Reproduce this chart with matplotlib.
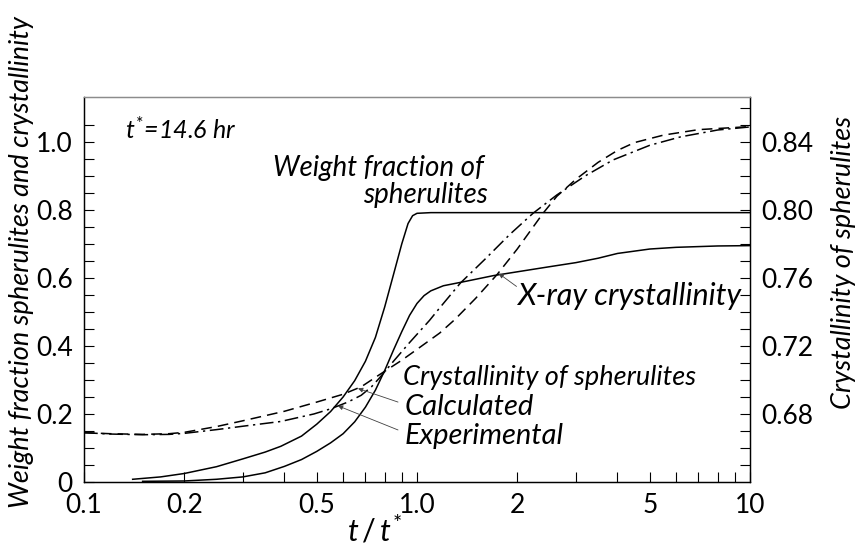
import numpy as np
import matplotlib
matplotlib.use("Agg")
import matplotlib.pyplot as plt
from matplotlib.ticker import FixedLocator, NullFormatter, FixedFormatter

plt.rcParams['font.family'] = ['Lato', 'DejaVu Sans']
plt.rcParams['mathtext.fontset'] = 'custom'
plt.rcParams['mathtext.it'] = 'Lato:italic'
plt.rcParams['mathtext.rm'] = 'Lato'

# weight fraction of spherulites (solid)
wf_t = [0.14, 0.17, 0.2, 0.25, 0.3, 0.35, 0.39, 0.45, 0.5, 0.55, 0.6, 0.65,
        0.7, 0.75, 0.8, 0.85, 0.9, 0.94, 0.97, 1.0, 1.1, 2.0, 5.0, 10.0]
wf_y = [0.008, 0.015, 0.025, 0.045, 0.068, 0.088, 0.105, 0.135, 0.17, 0.207,
        0.25, 0.298, 0.355, 0.425, 0.515, 0.61, 0.70, 0.76, 0.783, 0.79, 0.792,
        0.792, 0.792, 0.792]

# X-ray crystallinity (solid)
xr_t = [0.15, 0.2, 0.25, 0.3, 0.35, 0.4, 0.45, 0.5, 0.55, 0.6, 0.65, 0.7,
        0.75, 0.8, 0.85, 0.9, 0.95, 1.0, 1.05, 1.1, 1.2, 1.4, 1.7, 2.0, 2.5,
        3.0, 3.5, 4.0, 5.0, 6.0, 8.0, 10.0]
xr_y = [0.002, 0.003, 0.008, 0.015, 0.027, 0.046, 0.066, 0.09, 0.115, 0.142,
        0.177, 0.22, 0.27, 0.328, 0.388, 0.442, 0.49, 0.525, 0.548, 0.562,
        0.577, 0.59, 0.607, 0.618, 0.633, 0.645, 0.658, 0.672, 0.685, 0.69,
        0.694, 0.695]

# crystallinity of spherulites, calculated (dashed)
calc_t = [0.1, 0.12, 0.15, 0.18, 0.2, 0.25, 0.3, 0.35, 0.4, 0.5, 0.6, 0.68,
          0.77, 0.9, 1.0, 1.17, 1.3, 1.5, 1.74, 2.0, 2.39, 2.63, 3.0, 3.5,
          4.0, 4.5, 5.5, 7.0, 10.0]
calc_y = [0.145, 0.142, 0.14, 0.142, 0.146, 0.163, 0.18, 0.195, 0.208,
          0.235, 0.258, 0.28, 0.315, 0.358, 0.39, 0.438, 0.478, 0.54, 0.61,
          0.685, 0.79, 0.84, 0.89, 0.94, 0.975, 0.998, 1.02, 1.036, 1.045]

# crystallinity of spherulites, experimental (dash-dot)
exp_t = [0.1, 0.12, 0.15, 0.18, 0.2, 0.25, 0.3, 0.39, 0.49, 0.55, 0.62, 0.68,
         0.73, 0.77, 0.85, 0.95, 1.09, 1.17, 1.35, 1.6, 1.9, 2.23, 2.63, 3.2,
         3.88, 5.0, 6.2, 8.0, 10.0]
exp_y = [0.145, 0.141, 0.139, 0.14, 0.143, 0.154, 0.164, 0.178, 0.2, 0.215,
         0.235, 0.255, 0.28, 0.305, 0.355, 0.41, 0.475, 0.512, 0.585, 0.655,
         0.728, 0.79, 0.844, 0.9, 0.947, 0.99, 1.015, 1.035, 1.044]

x_ticks = [0.1, 0.2, 0.5, 1.0, 2, 5, 10]
x_labels = ['0.1', '0.2', '0.5', '1.0', '2', '5', '10']
left_ticks = [0, 0.2, 0.4, 0.6, 0.8, 1.0]
left_labels = ['0', '0.2', '0.4', '0.6', '0.8', '1.0']
right_ticks = [0.68, 0.72, 0.76, 0.80, 0.84]
right_labels = ['0.68', '0.72', '0.76', '0.80', '0.84']

ymax = 1.132
fig = plt.figure(figsize=(8.63, 5.49), dpi=100)
ax = fig.add_axes([84 / 863, 67 / 549, 666 / 863, 385 / 549])

lw = 1.1
ax.plot(wf_t, wf_y, color='black', lw=lw)
ax.plot(xr_t, xr_y, color='black', lw=lw)
ax.plot(calc_t, calc_y, color='black', lw=lw, dashes=(7, 4))
ax.plot(exp_t, exp_y, color='black', lw=lw, dashes=(9, 3, 1.5, 3))

ax.set_xscale('log')
ax.set_xlim(0.1, 10)
ax.set_ylim(0, ymax)

ax.xaxis.set_major_locator(FixedLocator(x_ticks))
ax.xaxis.set_major_formatter(FixedFormatter(x_labels))
minor_x = [0.3, 0.4, 0.6, 0.7, 0.8, 0.9, 3, 4, 6, 7, 8, 9]
ax.xaxis.set_minor_locator(FixedLocator(minor_x))
ax.xaxis.set_minor_formatter(NullFormatter())

ax.yaxis.set_major_locator(FixedLocator(left_ticks))
ax.yaxis.set_major_formatter(FixedFormatter(left_labels))
ax.yaxis.set_minor_locator(FixedLocator(np.arange(0.05, 1.06, 0.05)))

ax.tick_params(which='both', direction='in', length=7, width=0.8,
               labelsize=19, pad=8)
ax.tick_params(axis='y', right=False)

# right-hand scale: crystallinity of spherulites
ax2 = ax.twinx()
ax2.set_ylim(0.64, 0.64 + 0.2 * ymax)
ax2.yaxis.set_major_locator(FixedLocator(right_ticks))
ax2.yaxis.set_major_formatter(FixedFormatter(right_labels))
ax2.yaxis.set_minor_locator(FixedLocator(np.arange(0.65, 0.865, 0.01)))
ax2.tick_params(which='both', direction='in', length=7, width=0.8,
                labelsize=19, pad=8)

for a in (ax, ax2):
    for s in a.spines.values():
        s.set_linewidth(0.9)
    a.spines['top'].set_color('0.55')

txt = dict(style='italic', color='black')
ax.text(0.133, 1.035, r'$t^{*}$=14.6 hr', va='center', ha='left', fontsize=18, **txt)
ax.text(0.37, 0.924, 'Weight fraction of', va='center', ha='left', fontsize=20, **txt)
ax.text(1.63, 0.844, 'spherulites', va='center', ha='right', fontsize=20, **txt)
ax.text(1.995, 0.547, 'X-ray crystallinity', va='center', ha='left', fontsize=22, **txt)
ax.text(0.908, 0.306, 'Crystallinity of spherulites', va='center', ha='left',
        fontsize=19.5, **txt)
ax.text(0.92, 0.221, 'Calculated', va='center', ha='left', fontsize=21, **txt)
ax.text(0.92, 0.135, 'Experimental', va='center', ha='left', fontsize=21, **txt)

arrow = dict(arrowstyle='-|>', lw=0.6, color='0.25', mutation_scale=7,
             shrinkA=0, shrinkB=0)
ax.annotate('', xy=(1.76, 0.613), xytext=(1.99, 0.575), arrowprops=arrow)
ax.annotate('', xy=(0.665, 0.275), xytext=(0.877, 0.235), arrowprops=arrow)
ax.annotate('', xy=(0.579, 0.224), xytext=(0.877, 0.153), arrowprops=arrow)

fig.text(22 / 863, 1 - 262 / 549, 'Weight fraction spherulites and crystallinity',
         rotation=90, ha='center', va='center', fontsize=19.5, **txt)
fig.text(843 / 863, 1 - 262 / 549, 'Crystallinity of spherulites',
         rotation=90, ha='center', va='center', fontsize=19.5, **txt)
fig.text(375 / 863, 1 - 530 / 549, r'$t\,/\,t^{*}$', ha='center', va='center',
         fontsize=22)

fig.savefig('out.png', dpi=100)
